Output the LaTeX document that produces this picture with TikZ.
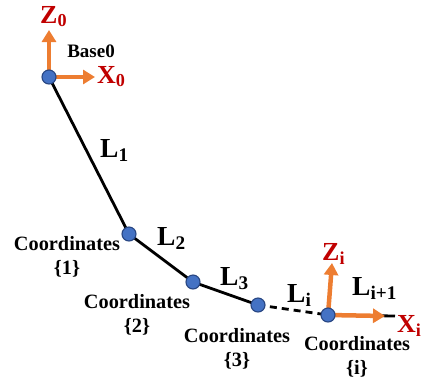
\documentclass[tikz,border=0pt]{standalone}
\usepackage{fontspec}
\setmainfont{Liberation Serif}
\usetikzlibrary{arrows.meta}
\definecolor{jblue}{RGB}{68,114,196}
\definecolor{jblueb}{RGB}{40,70,130}
\definecolor{jorange}{RGB}{237,125,49}
\definecolor{jred}{RGB}{192,0,0}
\tikzset{
  joint/.style={circle,fill=jblue,draw=jblueb,line width=1.1pt,minimum size=14pt,inner sep=0pt},
  link/.style={line width=2.8pt,black},
  axis/.style={line width=4.5pt,jorange,-{Triangle[length=12pt,width=14pt]}},
  axlabel/.style={anchor=base west,inner sep=0pt,text=jred,font=\fontsize{26}{28}\selectfont\bfseries},
  llabel/.style={anchor=base west,inner sep=0pt,font=\fontsize{27.5}{30}\selectfont\bfseries},
  clabel/.style={anchor=north,inner sep=0pt,align=center,font=\fontsize{20.3}{24}\selectfont\bfseries},
}
\begin{document}
\begin{tikzpicture}[x=1pt,y=-1pt]
\useasboundingbox (0,0) rectangle (425,381);
\coordinate (c0) at (49,77);
\coordinate (c1) at (129,234);
\coordinate (c2) at (193,282);
\coordinate (c3) at (258,305);
\coordinate (ci) at (328,315);
\coordinate (iend) at (395,316);
\coordinate (z0) at (49,30);
\coordinate (x0) at (95,77);
\coordinate (zi) at (332,263);
\coordinate (xi) at (385,316);
% links
\draw[link] (c0) -- (c1) -- (c2) -- (c3);
\draw[link,dash pattern=on 7pt off 5pt] (c3) -- (ci);
\draw[link] (ci) -- (iend);
% axes
\draw[axis] (c0) -- (z0);
\draw[axis] (c0) -- (x0);
\draw[axis] (ci) -- (zi);
\draw[axis] (ci) -- (xi);
% joints
\node[joint] (p0) at (c0) {};
\node[joint] (p1) at (c1) {};
\node[joint] (p2) at (c2) {};
\node[joint] (p3) at (c3) {};
\node[joint] (pi) at (ci) {};
% axis labels
\node[axlabel] (lz0) at (40,23) {Z\textsubscript{0}};
\node[axlabel] (lx0) at (97,83) {X\textsubscript{0}};
\node[axlabel] (lzi) at (322,260) {Z\textsubscript{i}};
\node[axlabel] (lxi) at (397,332) {X\textsubscript{i}};
\node[anchor=base,inner sep=0pt,font=\fontsize{19}{22}\selectfont\bfseries] (base) at (91,57) {Base0};
% link labels
\node[llabel] (l1) at (100,157) {L\textsubscript{1}};
\node[llabel] (l2) at (157,245) {L\textsubscript{2}};
\node[llabel] (l3) at (220,285) {L\textsubscript{3}};
\node[llabel] (li) at (287,302) {L\textsubscript{i}};
\node[llabel] (li1) at (352,295) {L\textsubscript{i+1}};
% coordinate labels
\node[clabel] (k1) at (67,236) {Coordinates\\\{1\}};
\node[clabel] (k2) at (137,294) {Coordinates\\\{2\}};
\node[clabel] (k3) at (237,328) {Coordinates\\\{3\}};
\node[clabel] (ki) at (357,336) {Coordinates\\\{i\}};
\end{tikzpicture}
\end{document}
